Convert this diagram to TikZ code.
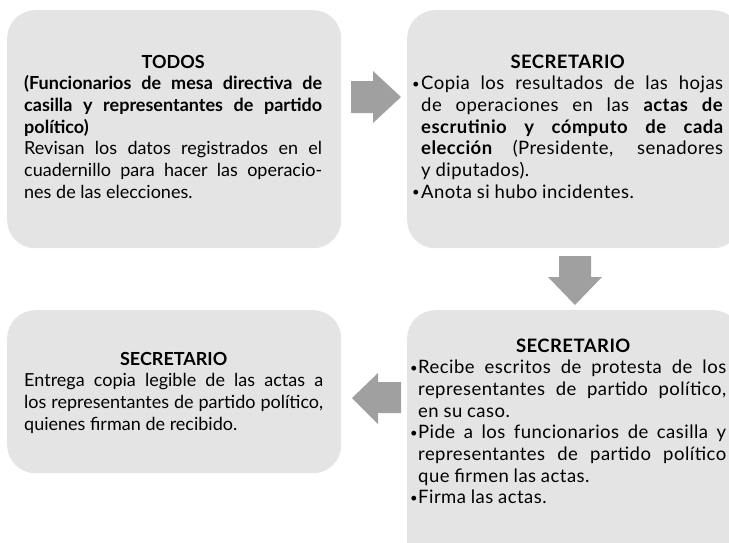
\documentclass[tikz,border=0pt]{standalone}
\usepackage{fontspec}
\setmainfont{Lato}
\definecolor{boxgray}{HTML}{E3E4E3}
\definecolor{arrowgray}{HTML}{A0A0A0}
\newlength\hind
\newlength\colw
\newcommand\mysetup[2]{\setlength\colw{#1}\setlength\hind{#2}\spaceskip=0.26em plus 2em minus 0.12em\xspaceskip=\spaceskip}
\newcommand\mybul{\makebox[\hind][l]{\raisebox{1.6pt}{\fontsize{13}{13}\selectfont\textbullet}}}
\newcommand\myjl[1]{\hbox to \colw{#1}}
\newcommand\myttl[1]{\hbox to \colw{\hss\bfseries #1\hss}}
\newcommand\myij[1]{\hbox to \colw{\hspace*{\hind}#1}}
\newcommand\myinl[1]{\hbox to \colw{\hspace*{\hind}#1\hfil}}
\newcommand\mynl[1]{\hbox to \colw{#1\hfil}}
\newcommand\mybj[1]{\hbox to \colw{\mybul#1}}
\newcommand\mybn[1]{\hbox to \colw{\mybul#1\hfil}}
\begin{document}
\begin{tikzpicture}[x=1pt,y=-1pt,
  panel/.style={draw=none, fill=boxgray, rounded corners=28pt, inner sep=0pt, anchor=north west},
  body/.style={inner sep=0pt, anchor=base west, align=left, font=\fontsize{18}{21.7}\selectfont},
  widebody/.style={body, font=\fontsize{18.5}{21.7}\selectfont\addfontfeatures{LetterSpace=2.5}},
  blockarrow/.style={fill=arrowgray}]
\useasboundingbox (0,0) rectangle (729,542);
\clip (0,0) rectangle (729,542);
\node[panel, minimum width=334pt, minimum height=238pt] (b1) at (7,10) {};
\node[panel, minimum width=334pt, minimum height=238pt] (b2) at (407,10) {};
\node[panel, minimum width=334pt, minimum height=163pt] (b3) at (7,310) {};
\node[panel, minimum width=334pt, minimum height=260pt] (b4) at (407,310) {};

\node[body, text width=298pt] (t1) at (24,68) {\mysetup{298pt}{0pt}%
\myttl{TODOS}
\myjl{\bfseries (Funcionarios de mesa directiva de}
\myjl{\bfseries casilla y representantes de partido}
\mynl{\bfseries político)}
\myjl{Revisan los datos registrados en el}
\myjl{cuadernillo para hacer las operacio-}
\mynl{nes de las elecciones.}};

\node[widebody, text width=311pt] (t2) at (412,68) {\mysetup{311pt}{9pt}%
\myttl{SECRETARIO}
\mybj{Copia los resultados de las hojas}
\myij{de operaciones en las \textbf{actas de}}
\myij{\bfseries escrutinio y cómputo de cada}
\myij{\textbf{elección} (Presidente, senadores}
\myinl{y diputados).}
\mybn{Anota si hubo incidentes.}};

\node[body, text width=299pt] (t3) at (24,365) {\mysetup{299pt}{0pt}%
\myttl{SECRETARIO}
\myjl{Entrega copia legible de las actas a}
\myjl{los representantes de partido político,}
\mynl{quienes firman de recibido.}};

\node[widebody, text width=316pt] (t4) at (410,352) {\mysetup{316pt}{8pt}%
\myttl{\hspace*{10pt}SECRETARIO}
\mybj{Recibe escritos de protesta de los}
\myij{representantes de partido político,}
\myinl{en su caso.}
\mybj{Pide a los funcionarios de casilla y}
\myij{representantes de partido político}
\myinl{que firmen las actas.}
\mybn{Firma las actas.}};

\fill[blockarrow] (351,81) -- (373,81) -- (373,71) -- (401,97) -- (373,123) -- (373,113) -- (351,113) -- cycle;
\fill[blockarrow] (559,256) -- (591,256) -- (591,277) -- (602,277) -- (575,305) -- (548,277) -- (559,277) -- cycle;
\fill[blockarrow] (401,382) -- (378,382) -- (378,373) -- (352,398) -- (378,424) -- (378,413) -- (401,413) -- cycle;
\end{tikzpicture}
\end{document}
